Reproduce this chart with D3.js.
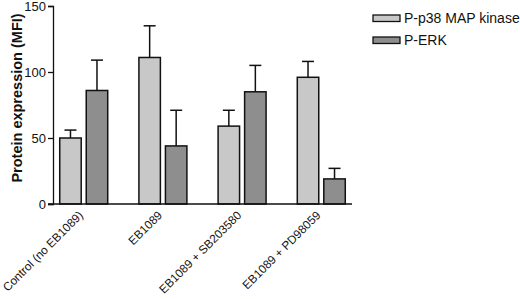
<!DOCTYPE html>
<html>
<head>
<meta charset="utf-8">
<script src="https://cdn.jsdelivr.net/npm/d3@7"></script>
<style>
  body { margin: 0; background: #fff; }
  svg { display: block; font-family: "Liberation Sans", Arial, sans-serif; }
</style>
</head>
<body>
<script>
const categories = ["Control (no EB1089)", "EB1089", "EB1089 + SB203580", "EB1089 + PD98059"];
const seriesNames = ["P-p38 MAP kinase", "P-ERK"];
const p38Values = [50, 111, 59, 96];
const p38Errors = [6, 24, 12, 12];
const erkValues = [86, 44, 85, 19];
const erkErrors = [23, 27, 20, 8];
const yTicks = [0, 50, 100, 150];

const w = 520, h = 299;
const colors = ["#c8c8c8", "#8e8e8e"];

const svg = d3.select("body").append("svg")
    .attr("width", w)
    .attr("height", h);

const x0 = d3.scaleBand()
    .domain(categories)
    .range([53, 352])
    .paddingInner(0.394)
    .paddingOuter(0.085);

const x1 = d3.scaleBand()
    .domain(seriesNames)
    .range([0, x0.bandwidth()])
    .paddingInner(0.19);

const y = d3.scaleLinear()
    .domain([0, 150])
    .range([204, 6]);

const rows = [];
categories.forEach((c, i) => {
    rows.push({ cat: c, s: seriesNames[0], v: p38Values[i], e: p38Errors[i], color: colors[0] });
    rows.push({ cat: c, s: seriesNames[1], v: erkValues[i], e: erkErrors[i], color: colors[1] });
});

// error bars (drawn first so bar outline sits on top)
const err = svg.append("g").attr("stroke", "#111").attr("stroke-width", 1.5);
rows.forEach(d => {
    const cx = x0(d.cat) + x1(d.s) + x1.bandwidth() / 2;
    err.append("line")
        .attr("x1", cx).attr("x2", cx)
        .attr("y1", y(d.v)).attr("y2", y(d.v + d.e));
    err.append("line")
        .attr("x1", cx - 6).attr("x2", cx + 6)
        .attr("y1", y(d.v + d.e)).attr("y2", y(d.v + d.e));
});

svg.append("g")
    .selectAll("rect")
    .data(rows)
    .join("rect")
    .attr("x", d => x0(d.cat) + x1(d.s))
    .attr("y", d => y(d.v))
    .attr("width", x1.bandwidth())
    .attr("height", d => y(0) - y(d.v))
    .attr("fill", d => d.color)
    .attr("stroke", "#111")
    .attr("stroke-width", 1.5);

// y axis
const yAxis = svg.append("g")
    .attr("transform", "translate(53,0)")
    .call(d3.axisLeft(y).tickValues(yTicks).tickSize(5).tickPadding(2).tickFormat(d3.format("d")));
yAxis.select(".domain").attr("stroke", "#111").attr("stroke-width", 1.3);
yAxis.selectAll(".tick line").attr("stroke", "#111").attr("stroke-width", 1.3);
yAxis.selectAll("text").attr("font-size", 13).attr("fill", "#111")
    .attr("font-family", "Liberation Sans, Arial, sans-serif");

// x axis
const xAxis = svg.append("g")
    .attr("transform", "translate(0,204)")
    .call(d3.axisBottom(x0).tickSize(0).tickPadding(0));
xAxis.select(".domain").attr("d", "M48,0H352").attr("stroke", "#111").attr("stroke-width", 1.3);
xAxis.selectAll("text")
    .attr("font-size", 11.8)
    .attr("fill", "#111")
    .attr("font-family", "Liberation Sans, Arial, sans-serif")
    .attr("text-anchor", "end")
    .attr("dy", 0)
    .attr("y", 0)
    .attr("transform", "translate(0,12) rotate(-45)");

// y label
svg.append("text")
    .attr("transform", "translate(22,98) rotate(-90)")
    .attr("text-anchor", "middle")
    .attr("font-size", 14.5)
    .attr("font-weight", "bold")
    .attr("fill", "#111")
    .text("Protein expression (MFI)");

// legend
const legend = svg.append("g");
seriesNames.forEach((s, i) => {
    const ly = 15 + i * 22;
    legend.append("rect")
        .attr("x", 373).attr("y", ly)
        .attr("width", 27).attr("height", 6.5)
        .attr("fill", colors[i])
        .attr("stroke", "#111").attr("stroke-width", 1.3);
    legend.append("text")
        .attr("x", 404).attr("y", ly + 3.5)
        .attr("dy", "0.35em")
        .attr("font-size", 14)
        .attr("fill", "#111")
        .text(s);
});
</script>
</body>
</html>
